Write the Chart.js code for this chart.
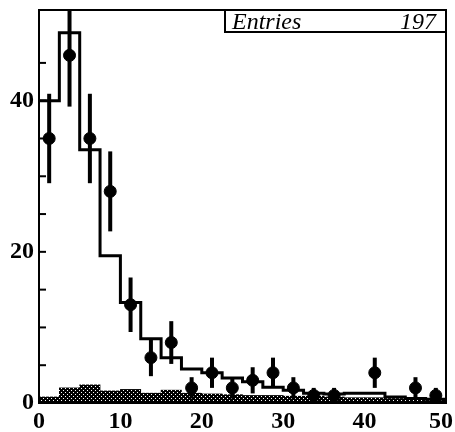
<!DOCTYPE html>
<html>
<head>
<meta charset="utf-8">
<script src="https://cdn.jsdelivr.net/npm/chart.js@4.4.1/dist/chart.umd.min.js"></script>
<style>
html, body { margin: 0; padding: 0; background: #fff; }
#wrap { width: 455px; height: 432px; }
</style>
</head>
<body>
<div id="wrap"><canvas id="histo"></canvas></div>
<script>
// bins of 2.5 from 0 to 50
const binEdges = [0, 2.5, 5, 7.5, 10, 12.5, 15, 17.5, 20, 22.5, 25, 27.5, 30, 32.5, 35, 37.5, 40, 42.5, 45, 47.5, 50]
const binCenters = [1.25, 3.75, 6.25, 8.75, 11.25, 13.75, 16.25, 18.75, 21.25, 23.75, 26.25, 28.75, 31.25, 33.75, 36.25, 38.75, 41.25, 43.75, 46.25, 48.75]
// measured counts (sum = 197)
const dataCounts = [35, 46, 35, 28, 13, 6, 8, 2, 4, 2, 3, 4, 2, 1, 1, 0, 4, 0, 2, 1]
// expectation histogram (solid step line)
const mcValues = [40, 49, 33.5, 19.5, 13.3, 8.5, 6.0, 4.5, 4.0, 3.3, 2.8, 2.1, 1.7, 1.3, 1.2, 1.3, 1.3, 0.8, 0.6, 0.5]
// background histogram (shaded)
const bgValues = [0.8, 2.0, 2.4, 1.6, 1.8, 1.3, 1.7, 1.3, 1.2, 1.1, 1.0, 1.0, 0.9, 0.9, 0.8, 0.7, 0.7, 0.6, 0.5, 0.5]
const xTicks = [0, 10, 20, 30, 40, 50]
const yTicks = [0, 20, 40]
const entries = 197

function stipple(){
  const c = document.createElement('canvas')
  c.width = 4
  c.height = 4
  const g = c.getContext('2d')
  g.fillStyle = '#000'
  g.fillRect(0, 0, 4, 4)
  g.fillStyle = '#fff'
  g.fillRect(1, 0, 1, 1)
  g.fillRect(3, 2, 1, 1)
  return g.createPattern(c, 'repeat')
}

const tickFont = {family: '"Liberation Serif"', size: 24, weight: 'bold'}

const frameAndBox = {
  id: 'frameAndBox',
  afterDraw(chart){
    const {ctx, chartArea: a, scales: {x, y}} = chart
    ctx.save()
    ctx.strokeStyle = '#000'
    ctx.lineWidth = 2
    // inner ticks on y
    y.ticks.forEach(t => {
      if (t.value % 5 !== 0) return
      const py = y.getPixelForValue(t.value)
      ctx.beginPath()
      ctx.moveTo(a.left, py)
      ctx.lineTo(a.left + 7, py)
      ctx.stroke()
    })
    // frame
    ctx.strokeRect(a.left, a.top, a.right - a.left, a.bottom - a.top)
    // x labels, last one kept inside the canvas
    ctx.fillStyle = '#000'
    ctx.font = 'bold 24px "Liberation Serif"'
    ctx.textBaseline = 'top'
    ctx.textAlign = 'center'
    xTicks.forEach(v => {
      const txt = String(v)
      const w = ctx.measureText(txt).width
      let px = x.getPixelForValue(v)
      px = Math.min(px, chart.width - w / 2 - 2)
      ctx.fillText(txt, px, a.bottom + 7)
    })
    // Entries box
    const bx = 225, by = a.top, bw = a.right - 225, bh = 22
    ctx.fillStyle = '#fff'
    ctx.fillRect(bx, by, bw, bh)
    ctx.strokeRect(bx, by, bw, bh)
    ctx.fillStyle = '#000'
    ctx.font = 'italic 24px "Liberation Serif"'
    ctx.textBaseline = 'alphabetic'
    ctx.textAlign = 'left'
    ctx.fillText('Entries', bx + 7, by + 19)
    ctx.textAlign = 'right'
    ctx.fillText(String(entries), a.right - 10, by + 19)
    ctx.restore()
  }
}

const errorBars = {
  id: 'errorBars',
  afterDatasetsDraw(chart){
    const {ctx, chartArea: a, scales: {x, y}} = chart
    ctx.save()
    ctx.beginPath()
    ctx.rect(a.left, a.top, a.right - a.left, a.bottom - a.top)
    ctx.clip()
    ctx.strokeStyle = '#000'
    ctx.lineWidth = 4
    binCenters.forEach((c, i) => {
      const n = dataCounts[i]
      if (n === 0) return
      const err = Math.sqrt(n)
      const px = x.getPixelForValue(c)
      ctx.beginPath()
      ctx.moveTo(px, y.getPixelForValue(n + err))
      ctx.lineTo(px, y.getPixelForValue(Math.max(0, n - err)))
      ctx.stroke()
    })
    ctx.restore()
  }
}

const stepData = binEdges.map((e, i) => ({x: e, y: mcValues[Math.min(i, mcValues.length - 1)]}))
const pointData = []
binCenters.forEach((c, i) => { if (dataCounts[i] > 0) pointData.push({x: c, y: dataCounts[i]}) })

new Chart(document.getElementById('histo').getContext('2d'), {
  type: 'bar',
  data: {
    datasets: [
      {
        type: 'bar',
        data: binCenters.map((c, i) => ({x: c, y: bgValues[i]})),
        backgroundColor: stipple(),
        borderWidth: 0,
        barPercentage: 1,
        categoryPercentage: 1,
        grouped: false,
        order: 3
      },
      {
        type: 'line',
        data: stepData,
        stepped: true,
        borderColor: '#000',
        borderWidth: 3,
        pointRadius: 0,
        fill: false,
        order: 2
      },
      {
        type: 'line',
        data: pointData,
        showLine: false,
        pointRadius: 6,
        pointBackgroundColor: '#000',
        pointBorderColor: '#000',
        order: 1
      }
    ]
  },
  options: {
    responsive: true,
    maintainAspectRatio: false,
    animation: false,
    layout: {padding: {top: 10, right: 9, left: 0, bottom: 0}},
    plugins: {legend: {display: false}, tooltip: {enabled: false}},
    scales: {
      x: {
        type: 'linear',
        min: 0,
        max: 50,
        offset: false,
        grid: {display: false, drawTicks: false},
        border: {display: true, color: '#000', width: 2},
        ticks: {display: false, stepSize: 10},
        afterFit: s => { s.height = 29; s.paddingLeft = 0; s.paddingRight = 0 }
      },
      y: {
        min: 0,
        max: 52,
        grid: {display: false, drawTicks: false},
        border: {display: true, color: '#000', width: 2},
        ticks: {
          stepSize: 5,
          color: '#000',
          font: tickFont,
          padding: 5,
          callback: v => yTicks.includes(v) ? v : ''
        },
        afterFit: s => { s.width = 39; s.paddingTop = 0; s.paddingBottom = 0 }
      }
    }
  },
  plugins: [errorBars, frameAndBox]
})
</script>
</body>
</html>
